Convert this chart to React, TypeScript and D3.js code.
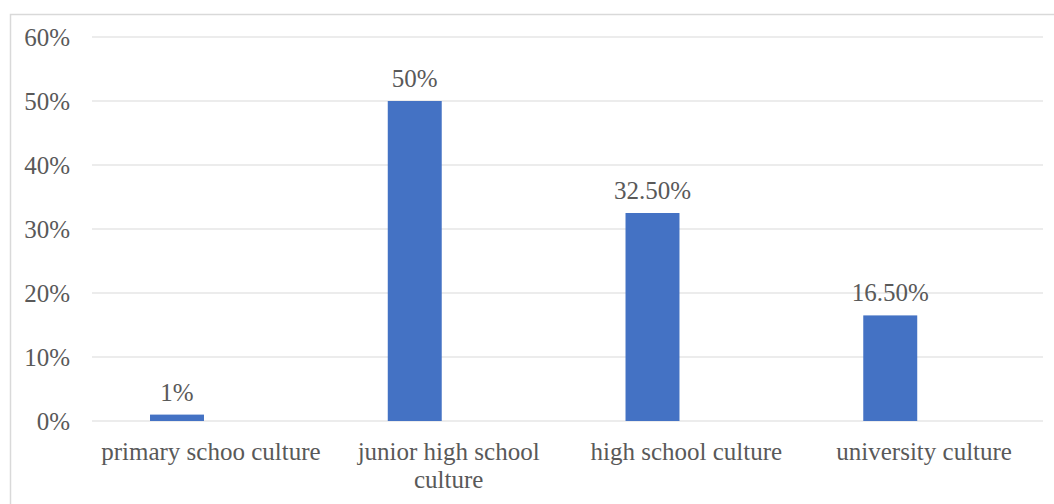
import React from "react";
import * as d3 from "d3";

const categories = ["primary schoo culture", "junior high school culture", "high school culture", "university culture"];
const values = [1, 50, 32.5, 16.5];
const valueLabels = ["1%", "50%", "32.50%", "16.50%"];
const yTicks = [0, 10, 20, 30, 40, 50, 60];

const W = 1054;
const H = 504;
const margin = { left: 92, right: 11, top: 37, bottom: 83 };
const FONT = "'Liberation Serif', 'Times New Roman', serif";
const TEXT = "#595959";

function wrap(text: string, maxW: number, fontSize: number): string[] {
  const canvas = document.createElement("canvas");
  const ctx = canvas.getContext("2d")!;
  ctx.font = `${fontSize}px ${FONT}`;
  const words = text.split(" ");
  const lines: string[] = [];
  let cur = "";
  for (const w of words) {
    const t = cur ? cur + " " + w : w;
    if (ctx.measureText(t).width > maxW && cur) {
      lines.push(cur);
      cur = w;
    } else cur = t;
  }
  if (cur) lines.push(cur);
  return lines;
}

export default function App() {
  const x = d3.scaleBand<string>().domain(categories).range([margin.left, W - margin.right]).padding(0);
  const y = d3.scaleLinear().domain([0, 60]).range([H - margin.bottom, margin.top]);
  const bw = x.bandwidth();
  const barOff = bw * 0.244;
  const barW = bw * 0.227;
  const fs = 25;

  return (
    <svg width={W} height={H} style={{ position: "absolute", left: 0, top: 0, background: "#fff" }}>
      <rect x={10.5} y={14.5} width={W} height={H} fill="none" stroke="#d9d9d9" strokeWidth={1.5} />
      {yTicks.map((t) => (
        <g key={t}>
          <line x1={margin.left} x2={W - margin.right} y1={y(t)} y2={y(t)} stroke="#d9d9d9" strokeWidth={1.2} />
          <text x={70} y={y(t)} dy="0.35em" textAnchor="end" fontFamily={FONT} fontSize={fs} fill={TEXT}>
            {t}%
          </text>
        </g>
      ))}
      {categories.map((c, i) => (
        <g key={c}>
          <rect x={x(c)! + barOff} y={y(values[i])} width={barW} height={y(0) - y(values[i])} fill="#4472c4" />
          <text
            x={x(c)! + barOff + barW / 2}
            y={y(values[i]) - 14}
            textAnchor="middle"
            fontFamily={FONT}
            fontSize={fs}
            fill={TEXT}
          >
            {valueLabels[i]}
          </text>
          <text textAnchor="middle" fontFamily={FONT} fontSize={fs} fill={TEXT}>
            {wrap(c, bw - 4, fs).map((ln, j) => (
              <tspan key={j} x={x(c)! + bw / 2} y={y(0) + 39 + j * 28}>
                {ln}
              </tspan>
            ))}
          </text>
        </g>
      ))}
    </svg>
  );
}
